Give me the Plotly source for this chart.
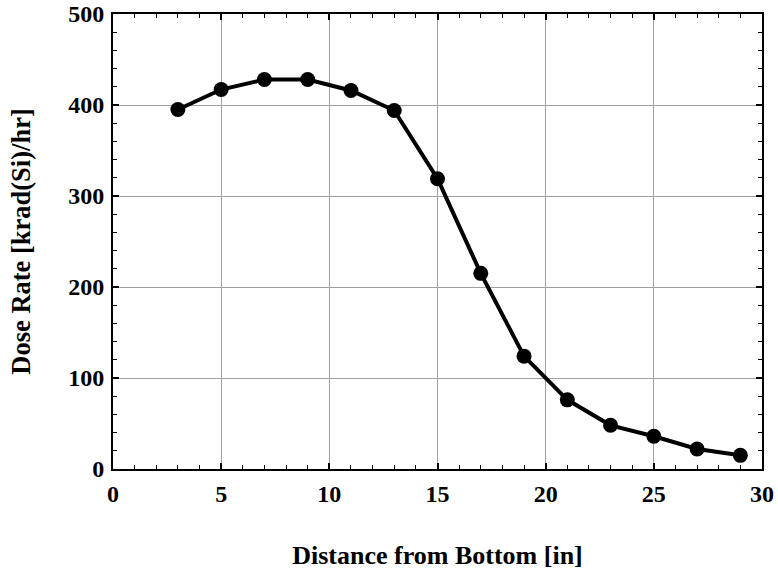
import plotly.graph_objects as go

distance_in = [3, 5, 7, 9, 11, 13, 15, 17, 19, 21, 23, 25, 27, 29]
dose_rate = [395, 417, 428, 428, 416, 394, 319, 215, 124, 76, 48, 36, 22, 15]

x_ticks = [0, 5, 10, 15, 20, 25, 30]
y_ticks = [0, 100, 200, 300, 400, 500]

font_family = "Liberation Serif"

fig = go.Figure()
fig.add_trace(go.Scatter(
    x=distance_in, y=dose_rate,
    mode="lines+markers",
    line=dict(color="black", width=4),
    marker=dict(color="black", size=15),
    showlegend=False,
))

axis_common = dict(
    showline=True, linecolor="black", linewidth=2, mirror="allticks",
    ticks="inside", ticklen=6, tickwidth=1.5, tickcolor="black",
    showgrid=True, gridcolor="#a0a0a0", gridwidth=1.3,
    zeroline=False, automargin=False, ticklabeloverflow="allow",
    tickfont=dict(family=font_family, size=24, color="black", weight="bold"),
)

fig.update_layout(
    width=778, height=577,
    margin=dict(l=113, r=16, t=14, b=108),
    paper_bgcolor="white", plot_bgcolor="white",
    font=dict(family=font_family, color="black"),
    xaxis=dict(
        range=[0, 30], tickvals=x_ticks, ticklabelstandoff=2,
        minor=dict(dtick=1, ticks="inside", ticklen=4, tickcolor="black", tickwidth=1, showgrid=False),
        title=dict(text="<b>Distance from Bottom [in]</b>", font=dict(family=font_family, size=26, color="black"), standoff=40),
        **axis_common,
    ),
    yaxis=dict(
        range=[0, 500], tickvals=y_ticks, ticklabelstandoff=2,
        minor=dict(dtick=20, ticks="inside", ticklen=4, tickcolor="black", tickwidth=1, showgrid=False),
        title=dict(text="<b>Dose Rate [krad(Si)/hr]</b>", font=dict(family=font_family, size=26.5, color="black"), standoff=30),
        **axis_common,
    ),
)

fig.write_html(
    "out.html",
    config={"displayModeBar": False},
    post_script="document.body.style.margin='0';document.body.style.overflow='hidden';",
)
